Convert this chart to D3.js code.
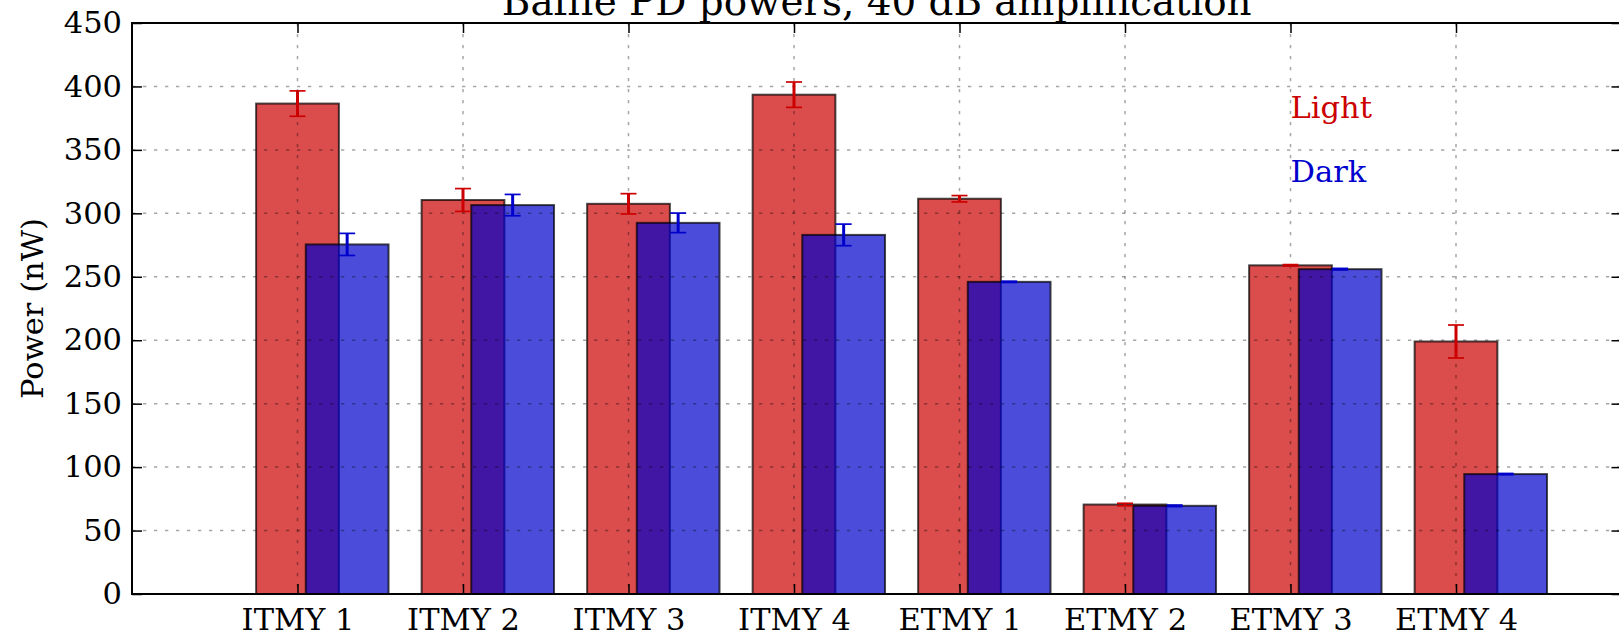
<!DOCTYPE html>
<html lang="en">
<head>
    <meta charset="UTF-8" />
    <title>Baffle PD powers</title>
    <script src="https://d3js.org/d3.v7.min.js"></script>
    <style>
        body {
            margin: 0;
            padding: 0;
            background: #fff;
        }

        svg text {
            font-family: "DejaVu Serif", serif;
        }

        .grid line {
            stroke: #000;
            stroke-opacity: 0.35;
            stroke-width: 1.5;
            stroke-dasharray: 3.3, 7.7;
        }

        .axis line {
            stroke: #000;
            stroke-width: 1.5;
        }

        .axis text {
            font-size: 30.5px;
            fill: #000;
        }
    </style>
</head>
<body>
    <svg id="chart" width="1619" height="639"></svg>

    <script>
        // values
        const categories = ["ITMY 1", "ITMY 2", "ITMY 3", "ITMY 4", "ETMY 1", "ETMY 2", "ETMY 3", "ETMY 4"];
        const light = [386.5, 310.5, 307.5, 393.5, 311.5, 70.5, 259, 199];
        const lightErr = [10, 9, 8, 10, 2.5, 1, 0.6, 13];
        const dark = [275.5, 306.5, 292.5, 283, 246, 69.5, 256, 94.5];
        const darkErr = [8.7, 8.4, 7.7, 8.5, 0.5, 0.6, 0.6, 0.5];
        const yTicks = [0, 50, 100, 150, 200, 250, 300, 350, 400, 450];

        const plotLeft = 132, plotTop = 23, plotRight = 1621.5, plotBottom = 594;

        const svg = d3.select("#chart");

        const x = d3.scaleLinear().domain([-1, 8]).range([plotLeft, plotRight]);
        const y = d3.scaleLinear().domain([0, 450]).range([plotBottom, plotTop]);

        const barW = 0.5;
        const darkShift = 0.3;

        // bars
        function drawBars(values, shift, color, cls) {
            svg.append("g").selectAll("rect." + cls)
                .data(values)
                .enter().append("rect")
                .attr("class", cls)
                .attr("x", (d, i) => x(i + shift - barW / 2))
                .attr("width", x(barW) - x(0))
                .attr("y", d => y(d))
                .attr("height", d => y(0) - y(d))
                .attr("fill", color)
                .attr("fill-opacity", 0.7)
                .attr("stroke", "#000")
                .attr("stroke-opacity", 0.7)
                .attr("stroke-width", 2);
        }

        drawBars(light, 0, "#cc0000", "light");
        drawBars(dark, darkShift, "#0000cc", "dark");

        // grid over the bars
        const grid = svg.append("g").attr("class", "grid");
        grid.selectAll("line.h")
            .data(yTicks)
            .enter().append("line")
            .attr("x1", plotLeft).attr("x2", plotRight)
            .attr("y1", d => y(d)).attr("y2", d => y(d));
        grid.selectAll("line.v")
            .data(categories)
            .enter().append("line")
            .attr("x1", (d, i) => x(i)).attr("x2", (d, i) => x(i))
            .attr("y1", plotTop).attr("y2", plotBottom);

        // error bars
        function drawErrors(values, errs, shift, color) {
            const g = svg.append("g");
            const cap = 8;
            values.forEach((v, i) => {
                const cx = x(i + shift);
                const e = errs[i];
                g.append("line")
                    .attr("x1", cx).attr("x2", cx)
                    .attr("y1", y(v - e)).attr("y2", y(v + e))
                    .attr("stroke", color).attr("stroke-width", 3);
                [v - e, v + e].forEach(c => {
                    g.append("line")
                        .attr("x1", cx - cap).attr("x2", cx + cap)
                        .attr("y1", y(c)).attr("y2", y(c))
                        .attr("stroke", color).attr("stroke-width", 1.7);
                });
            });
        }

        drawErrors(light, lightErr, 0, "#cc0000");
        drawErrors(dark, darkErr, darkShift, "#0000cc");

        // axes, ticks pointing inwards on all four sides
        svg.append("g")
            .attr("class", "axis")
            .attr("transform", `translate(${plotLeft},0)`)
            .call(d3.axisLeft(y).tickValues(yTicks).tickSizeInner(-10).tickSizeOuter(0).tickPadding(10))
            .call(g => g.select(".domain").remove());

        svg.append("g")
            .attr("class", "axis")
            .attr("transform", `translate(${plotRight},0)`)
            .call(d3.axisRight(y).tickValues(yTicks).tickSizeInner(-10).tickSizeOuter(0).tickFormat(""))
            .call(g => g.select(".domain").remove());

        svg.append("g")
            .attr("class", "axis")
            .attr("transform", `translate(0,${plotBottom})`)
            .call(d3.axisBottom(x).tickValues(d3.range(categories.length))
                .tickFormat(i => categories[i])
                .tickSizeInner(-10).tickSizeOuter(0).tickPadding(14))
            .call(g => g.select(".domain").remove());

        svg.append("g")
            .attr("class", "axis")
            .attr("transform", `translate(0,${plotTop})`)
            .call(d3.axisTop(x).tickValues(d3.range(categories.length))
                .tickSizeInner(-10).tickSizeOuter(0).tickFormat(""))
            .call(g => g.select(".domain").remove());

        svg.selectAll(".axis text").attr("font-family", "DejaVu Serif");

        // spines
        svg.append("rect")
            .attr("x", plotLeft).attr("y", plotTop)
            .attr("width", plotRight - plotLeft).attr("height", plotBottom - plotTop)
            .attr("fill", "none")
            .attr("stroke", "#000")
            .attr("stroke-width", 2);

        // title (cut off at the top, as in the figure)
        svg.append("text")
            .attr("x", (plotLeft + plotRight) / 2)
            .attr("y", 15)
            .attr("text-anchor", "middle")
            .attr("font-size", "38.9px")
            .text("Baffle PD powers, 40 dB amplification");

        // y label
        svg.append("text")
            .attr("transform", `translate(43,${(plotTop + plotBottom) / 2}) rotate(-90)`)
            .attr("text-anchor", "middle")
            .attr("font-size", "30.5px")
            .text("Power (nW)");

        // series labels placed in data coordinates
        svg.append("text")
            .attr("x", x(6)).attr("y", y(375))
            .attr("font-size", "30.5px")
            .attr("fill", "#cc0000")
            .text("Light");
        svg.append("text")
            .attr("x", x(6)).attr("y", y(325))
            .attr("font-size", "30.5px")
            .attr("fill", "#0000cc")
            .text("Dark");
    </script>
</body>
</html>
